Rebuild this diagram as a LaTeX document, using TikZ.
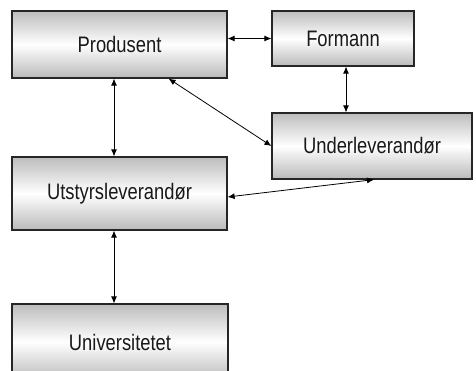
\documentclass[tikz,border=0pt]{standalone}
\usepackage{fontspec}
\setmainfont{Liberation Sans}[FakeStretch=0.82]
\usetikzlibrary{arrows.meta,calc}
\begin{document}
\begin{tikzpicture}[x=1pt,y=-1pt,
  box/.style={draw=black!85,line width=1.2pt,top color=black!26,bottom color=black!27,middle color=white,
    inner sep=0pt,font=\fontsize{22.4}{26}\selectfont,text=black!90},
  arr/.style={line width=0.8pt,{Latex[length=7pt,width=6pt]}-{Latex[length=7pt,width=6pt]}}]
\useasboundingbox (0,0) rectangle (476,370);
\clip (0,0) rectangle (476,370);
\node[box,minimum width=215pt,minimum height=67pt] (P) at (119.5,44.5) {Produsent};
\node[box,minimum width=142pt,minimum height=55pt] (F) at (343,38.5) {Formann};
\node[box,minimum width=200pt,minimum height=66pt] (U) at (372,146) {Underleverandør};
\node[box,minimum width=215pt,minimum height=73pt] (S) at (119.5,193.5) {Utstyrsleverandør};
\node[box,minimum width=216pt,minimum height=76pt] (V) at (120,342) {Universitetet};
\draw[arr] (P.east |- F.west) -- (F.west);
\draw[arr] ($(F.south)+(3,0)$) -- ($(U.north)+(-26,0)$);
\draw[arr] ($(P.south)+(-5.5,0)$) -- ($(S.north)+(-5.5,0)$);
\draw[arr] ($(P.south east)+(-59,0)$) -- (U.west);
\draw[arr] ($(S.east)+(0,3.5)$) -- ($(U.south)+(2,0)$);
\draw[arr] ($(S.south)+(-5.5,0)$) -- ($(V.north)+(-6,0)$);
\end{tikzpicture}
\end{document}
